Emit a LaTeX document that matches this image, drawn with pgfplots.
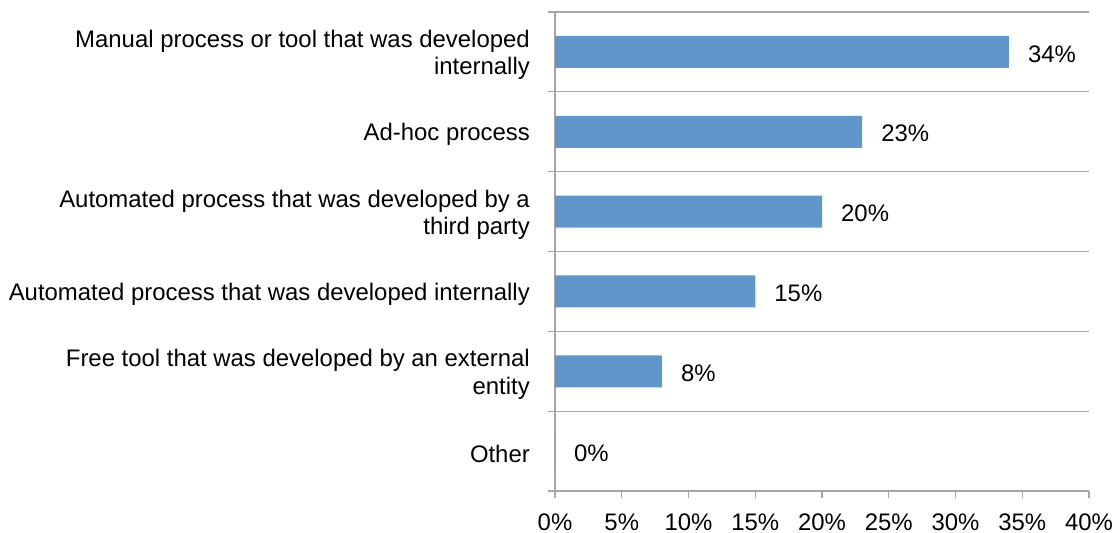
\documentclass[border=0pt]{standalone}
\usepackage{pgfplots}
\pgfplotsset{compat=1.18}
\usepackage{fontspec}
\setmainfont{Liberation Sans}
\definecolor{barblue}{RGB}{97,150,203}
\definecolor{axgray}{RGB}{166,166,166}
\begin{document}
\begin{tikzpicture}
\useasboundingbox (0,0) rectangle (1117bp,533bp);
\begin{axis}[
  at={(555bp,42bp)}, anchor=south west,
  scale only axis, width=534bp, height=479bp,
  xbar, bar width=32bp,
  xmin=0, xmax=40, ymin=-0.5, ymax=5.5,
  axis x line*=bottom, axis y line*=left,
  axis line style={axgray, line width=1.2bp},
  tick align=outside, major tick length=7bp,
  tick style={axgray, line width=1.2bp},
  /pgf/number format/assume math mode=true,
  xtick={0,5,...,40},
  xticklabel={\pgfmathprintnumber{\tick}\%},
  xticklabel style={font=\fontsize{24}{27}\selectfont, yshift=-12bp},
  ytick={-0.5,0.5,...,5.5}, yticklabels={},
  ymajorgrids, grid style={axgray, line width=1.2bp},
  extra y ticks={0,1,2,3,4,5},
  extra y tick labels={
    {Other},
    {Free tool that was developed by an external\\entity},
    {Automated process that was developed internally},
    {Automated process that was developed by a\\third party},
    {Ad-hoc process},
    {Manual process or tool that was developed\\internally}},
  extra y tick style={major tick length=0pt, grid=none,
    yticklabel style={align=right, inner sep=0pt, xshift=-25bp, yshift=-3bp,
      font=\fontsize{24}{27.5}\selectfont}},
  point meta=x,
  nodes near coords={\pgfmathprintnumber{\pgfplotspointmeta}\%},
  every node near coord/.append style={anchor=west, inner sep=0pt,
    xshift=19bp, yshift=-2bp, black, font=\fontsize{24}{27}\selectfont},
  clip=false,
]
\addplot[fill=barblue, draw=none] coordinates {
  (34,5) (23,4) (20,3) (15,2) (8,1) (0,0)
};
\end{axis}
\end{tikzpicture}
\end{document}
